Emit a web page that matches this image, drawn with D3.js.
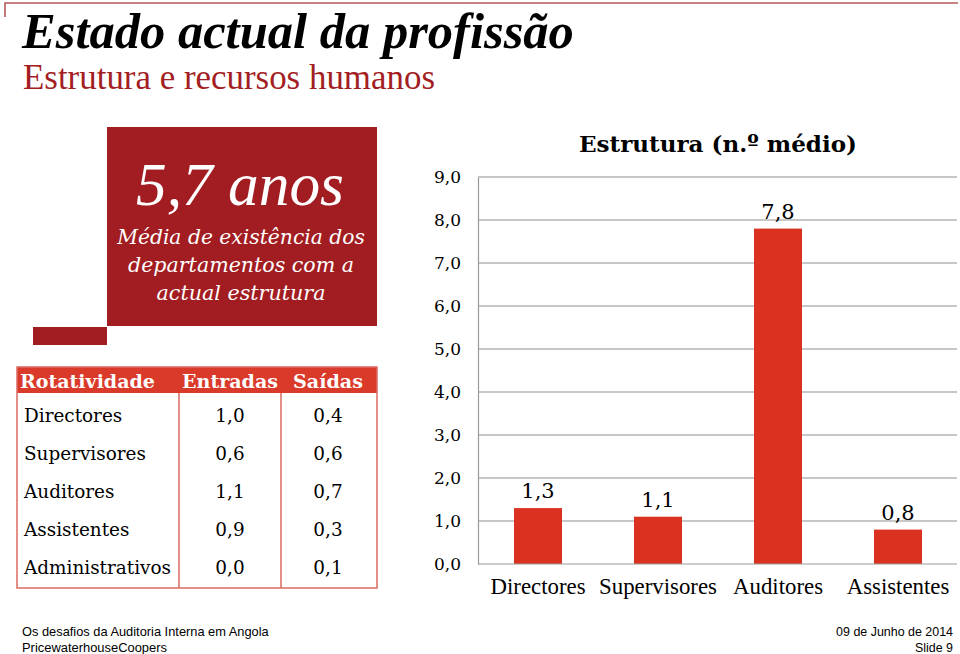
<!DOCTYPE html>
<html>
<head>
<meta charset="utf-8">
<script src="https://cdn.jsdelivr.net/npm/d3@7"></script>
<style>
  html, body { margin: 0; padding: 0; background: #fff; }
  svg { display: block; }
</style>
</head>
<body>
<svg id="chart" width="960" height="654"></svg>
<script>
// ---------- data ----------
const categories = ["Directores", "Supervisores", "Auditores", "Assistentes"];
const estrutura = [1.3, 1.1, 7.8, 0.8];
const yTicks = [0, 1, 2, 3, 4, 5, 6, 7, 8, 9];

const rotCategories = ["Directores", "Supervisores", "Auditores", "Assistentes", "Administrativos"];
const entradas = [1.0, 0.6, 1.1, 0.9, 0.0];
const saidas = [0.4, 0.6, 0.7, 0.3, 0.1];
const tableHeader = ["Rotatividade", "Entradas", "Saídas"];

const titleText = "Estado actual da profissão";
const subtitleText = "Estrutura e recursos humanos";
const boxBig = "5,7 anos";
const boxLines = ["Média de existência dos", "departamentos com a", "actual estrutura"];
const chartTitle = "Estrutura (n.º médio)";
const footerLeft = ["Os desafios da Auditoria Interna em Angola", "PricewaterhouseCoopers"];
const footerRight = ["09 de Junho de 2014", "Slide 9"];

// ---------- helpers ----------
const fmt = d3.formatLocale({decimal: ",", thousands: ".", grouping: [3], currency: ["", ""]}).format(".1f");
const SERIF = "'DejaVu Serif', 'Liberation Serif', serif";
const TIMES = "'Liberation Serif', serif";
const SANS = "'Liberation Sans', Arial, sans-serif";

function fit(sel, width) {
  sel.each(function() {
    const fs = parseFloat(this.getAttribute("font-size"));
    const w = this.getComputedTextLength();
    if (w > 0) this.setAttribute("font-size", (fs * width / w).toFixed(2));
  });
  return sel;
}

const svg = d3.select("#chart");

// ---------- frame line ----------
svg.append("path")
  .attr("d", "M5,17 V3 H958")
  .attr("fill", "none")
  .attr("stroke", "#b5585a")
  .attr("stroke-width", 1.6);

// ---------- titles ----------
fit(svg.append("text").text(titleText)
  .attr("x", 22).attr("y", 48)
  .attr("font-family", TIMES).attr("font-weight", "bold").attr("font-style", "italic")
  .attr("font-size", 42).attr("fill", "#000"), 552);

fit(svg.append("text").text(subtitleText)
  .attr("x", 23).attr("y", 89)
  .attr("font-family", TIMES)
  .attr("font-size", 28).attr("fill", "#a31e22"), 412);

// ---------- red box ----------
svg.append("rect").attr("x", 107).attr("y", 127).attr("width", 270).attr("height", 199).attr("fill", "#a21d21");
svg.append("rect").attr("x", 33).attr("y", 327).attr("width", 74).attr("height", 18).attr("fill", "#a21d21");

fit(svg.append("text").text(boxBig)
  .attr("x", 240).attr("y", 205).attr("text-anchor", "middle")
  .attr("font-family", TIMES).attr("font-style", "italic")
  .attr("font-size", 56).attr("fill", "#fff"), 208);

const boxBase = [244, 272, 300];
const boxWidths = [248, 226, 169];
boxLines.forEach((t, i) => {
  fit(svg.append("text").text(t)
    .attr("x", 241).attr("y", boxBase[i]).attr("text-anchor", "middle")
    .attr("font-family", SERIF).attr("font-style", "italic")
    .attr("font-size", 20).attr("fill", "#fff"), boxWidths[i]);
});

// ---------- table ----------
const tbl = svg.append("g");
const tLeft = 17, tRight = 377, tTop = 367, hdrBottom = 393, tBottom = 588;
const colX = [tLeft, 179, 281, tRight];
const rowY = d3.scalePoint().domain(rotCategories).range([422, 574]);

tbl.append("rect").attr("x", tLeft).attr("y", tTop).attr("width", tRight - tLeft).attr("height", hdrBottom - tTop)
  .attr("fill", "#d93a2a");
tbl.append("rect").attr("x", tLeft).attr("y", tTop).attr("width", tRight - tLeft).attr("height", tBottom - tTop)
  .attr("fill", "none").attr("stroke", "#dc6a62").attr("stroke-width", 1.5);
[colX[1], colX[2]].forEach(x => {
  tbl.append("line").attr("x1", x).attr("x2", x).attr("y1", hdrBottom).attr("y2", tBottom)
    .attr("stroke", "#dc6a62").attr("stroke-width", 1.5);
});

const hdrW = [135, 96, 70];
const hdrX = [20, 230, 328];
tableHeader.forEach((h, i) => {
  fit(tbl.append("text").text(h)
    .attr("x", hdrX[i]).attr("y", 388)
    .attr("text-anchor", i === 0 ? "start" : "middle")
    .attr("font-family", SERIF).attr("font-weight", "bold")
    .attr("font-size", 18).attr("fill", "#fff"), hdrW[i]);
});

const nameSize = (() => {
  const t = tbl.append("text").text("Administrativos").attr("font-family", SERIF).attr("font-size", 20);
  fit(t, 147);
  const s = +t.attr("font-size");
  t.remove();
  return s;
})();

rotCategories.forEach((c, i) => {
  tbl.append("text").text(c)
    .attr("x", 24).attr("y", rowY(c))
    .attr("font-family", SERIF).attr("font-size", nameSize).attr("fill", "#000");
  tbl.append("text").text(fmt(entradas[i]))
    .attr("x", 230).attr("y", rowY(c)).attr("text-anchor", "middle")
    .attr("font-family", SERIF).attr("font-size", nameSize).attr("fill", "#000");
  tbl.append("text").text(fmt(saidas[i]))
    .attr("x", 328).attr("y", rowY(c)).attr("text-anchor", "middle")
    .attr("font-family", SERIF).attr("font-size", nameSize).attr("fill", "#000");
});

// ---------- bar chart ----------
const x = d3.scaleBand().domain(categories).range([478, 958]).paddingInner(0.6).paddingOuter(0.3);
const y = d3.scaleLinear().domain([0, 9]).range([564, 177]);

const chart = svg.append("g");

// gridlines
chart.append("g").selectAll("line").data(yTicks.filter(d => d > 0)).join("line")
  .attr("x1", 478).attr("x2", 957)
  .attr("y1", d => y(d)).attr("y2", d => y(d))
  .attr("stroke", "#8f8f8f").attr("stroke-width", 1.2);

// y axis
const yAxis = chart.append("g").attr("transform", "translate(478,0)")
  .call(d3.axisLeft(y).tickValues(yTicks).tickFormat(fmt).tickSize(0).tickPadding(17));
yAxis.select(".domain").attr("stroke", "#9a9a9a").attr("stroke-width", 1.2);
yAxis.selectAll("text").attr("font-family", SERIF).attr("font-size", 17).attr("fill", "#000");

// bars
chart.append("g").selectAll("rect").data(estrutura).join("rect")
  .attr("x", (d, i) => x(categories[i]))
  .attr("y", d => y(d))
  .attr("width", x.bandwidth())
  .attr("height", d => y(0) - y(d))
  .attr("fill", "#db3121");

// baseline
chart.append("line").attr("x1", 478).attr("x2", 957).attr("y1", y(0)).attr("y2", y(0))
  .attr("stroke", "#9a9a9a").attr("stroke-width", 1.2);

// value labels
chart.append("g").selectAll("text").data(estrutura).join("text")
  .text(d => fmt(d))
  .attr("x", (d, i) => x(categories[i]) + x.bandwidth() / 2)
  .attr("y", d => y(d) - 10)
  .attr("text-anchor", "middle")
  .attr("font-family", SERIF).attr("font-size", 21).attr("fill", "#000");

// x axis labels
const xAxis = chart.append("g").attr("transform", `translate(0,${y(0)})`)
  .call(d3.axisBottom(x).tickSize(0).tickPadding(14));
xAxis.select(".domain").remove();
xAxis.selectAll("text").attr("font-family", TIMES).attr("font-size", 21).attr("fill", "#000");
(() => {
  let node = null;
  xAxis.selectAll("text").each(function(d) { if (d === "Supervisores") node = this; });
  const w = node.getComputedTextLength();
  const s = 21 * 118 / w;
  xAxis.selectAll("text").attr("font-size", s.toFixed(2)).attr("dy", "0.71em");
})();

// chart title
fit(chart.append("text").text(chartTitle)
  .attr("x", 718).attr("y", 152).attr("text-anchor", "middle")
  .attr("font-family", SERIF).attr("font-weight", "bold")
  .attr("font-size", 20).attr("fill", "#000"), 278);

// ---------- footer ----------
footerLeft.forEach((t, i) => {
  const el = svg.append("text").text(t)
    .attr("x", 22).attr("y", 636 + i * 16)
    .attr("font-family", SANS).attr("font-size", 13).attr("fill", "#000");
  fit(el, i === 0 ? 247 : 145);
});
footerRight.forEach((t, i) => {
  const el = svg.append("text").text(t)
    .attr("x", 953).attr("y", 636 + i * 16).attr("text-anchor", "end")
    .attr("font-family", SANS).attr("font-size", 13).attr("fill", "#000");
  fit(el, i === 0 ? 117 : 38);
});
</script>
</body>
</html>
